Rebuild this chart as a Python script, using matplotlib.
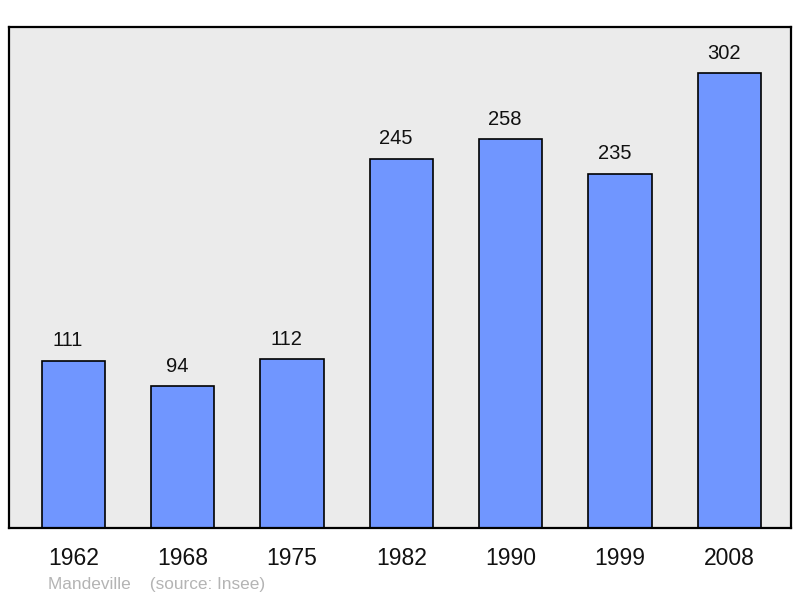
import matplotlib.pyplot as plt
import numpy as np

plt.rcParams['font.family'] = ['Liberation Sans', 'DejaVu Sans']

years = ['1962', '1968', '1975', '1982', '1990', '1999', '2008']
population = [111, 94, 112, 245, 258, 235, 302]

fig = plt.figure(figsize=(8, 5.98), dpi=100)
ax = fig.add_axes([9 / 800, 1 - 528 / 598, 782 / 800, 501 / 598])
ax.set_facecolor('#ebebeb')

x = np.arange(len(years))
ax.bar(x, population, width=0.58, color='#7096ff', edgecolor='black', linewidth=1.2, zorder=2)

for xi, v in zip(x, population):
    ax.annotate(str(v), (xi, v), xytext=(-4, 7.5), textcoords='offset points',
                ha='center', va='bottom', fontsize=14.5, color='#111111')

ax.set_xlim(-0.59, 6.565)
ax.set_ylim(0, 332.5)
ax.set_yticks([])
ax.set_xticks(x)
ax.set_xticklabels(years, fontsize=16.5, color='#111111')
ax.tick_params(axis='x', length=0, pad=13.5)
for s in ax.spines.values():
    s.set_linewidth(1.6)

fig.text(48 / 800, 1 - 585 / 598, 'Mandeville    (source: Insee)', color='#b4b4b4',
         fontsize=12.4, va='center')

fig.savefig('out.png', dpi=100)
